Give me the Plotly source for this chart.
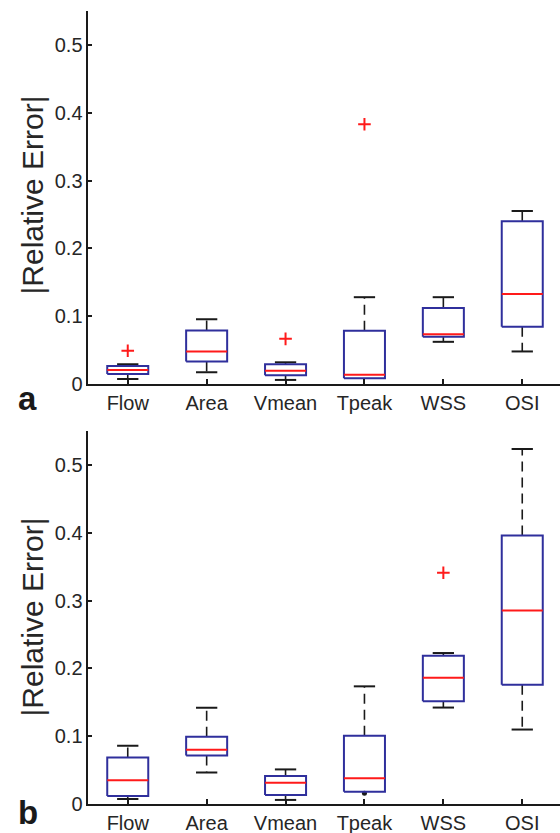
import plotly.graph_objects as go

categories = ["Flow", "Area", "Vmean", "Tpeak", "WSS", "OSI"]
y_ticks = [0, 0.1, 0.2, 0.3, 0.4, 0.5]
y_tick_text = ["0", "0.1", "0.2", "0.3", "0.4", "0.5"]

# Panel a
a_q1 = [0.0147, 0.033, 0.013, 0.0083, 0.0696, 0.0843]
a_med = [0.0206, 0.048, 0.0196, 0.0137, 0.0735, 0.1328]
a_q3 = [0.0265, 0.079, 0.029, 0.0784, 0.112, 0.240]
a_lo = [0.0074, 0.0172, 0.006, 0.0083, 0.0622, 0.048]
a_hi = [0.029, 0.0956, 0.032, 0.128, 0.128, 0.255]
a_out = [[0.049], [], [0.0666], [0.383], [], []]
a_lo_dot = [False, False, False, False, False, False]

# Panel b
b_q1 = [0.0118, 0.0716, 0.0132, 0.018, 0.1515, 0.176]
b_med = [0.0349, 0.080, 0.0314, 0.0378, 0.1863, 0.2853]
b_q3 = [0.0687, 0.099, 0.0412, 0.1005, 0.2187, 0.396]
b_lo = [0.0074, 0.0466, 0.006, 0.0157, 0.1422, 0.1098]
b_hi = [0.0859, 0.142, 0.051, 0.1735, 0.2226, 0.5235]
b_out = [[], [], [], [], [0.341], []]
b_lo_dot = [False, False, False, True, False, False]

BOX_W = 0.52
CAP_W = 0.27
BLUE = "#2f2f9c"
RED = "#ff1a1a"
BLACK = "#1a1a1a"
FONT = "Arial, Liberation Sans, sans-serif"

fig = go.Figure()


def add_panel(q1, med, q3, lo, hi, out, lo_dot, xa, ya):
    pos = list(range(1, len(categories) + 1))
    wx, wy, cx, cy, bx, by, mx, my, ox, oy, dx, dy = ([] for _ in range(12))
    for p, a, m, b, l, h, o, d in zip(pos, q1, med, q3, lo, hi, out, lo_dot):
        # whiskers (dashed)
        if h > b:
            wx += [p, p, None]; wy += [b, h, None]
            cx += [p - CAP_W / 2, p + CAP_W / 2, None]; cy += [h, h, None]
        if l < a:
            wx += [p, p, None]; wy += [a, l, None]
            if d:
                dx.append(p); dy.append(l)
            else:
                cx += [p - CAP_W / 2, p + CAP_W / 2, None]; cy += [l, l, None]
        # box
        bx += [p - BOX_W / 2, p + BOX_W / 2, p + BOX_W / 2, p - BOX_W / 2, p - BOX_W / 2, None]
        by += [a, a, b, b, a, None]
        mx += [p - BOX_W / 2, p + BOX_W / 2, None]; my += [m, m, None]
        for v in o:
            ox.append(p); oy.append(v)
    common = dict(xaxis=xa, yaxis=ya, showlegend=False, hoverinfo="skip")
    fig.add_trace(go.Scatter(x=wx, y=wy, mode="lines",
                             line=dict(color=BLACK, width=1.6, dash="10px,6px"), **common))
    fig.add_trace(go.Scatter(x=cx, y=cy, mode="lines",
                             line=dict(color=BLACK, width=2), **common))
    if dx:
        fig.add_trace(go.Scatter(x=dx, y=dy, mode="markers",
                                 marker=dict(color=BLACK, size=5, symbol="circle"), **common))
    fig.add_trace(go.Scatter(x=bx, y=by, mode="lines",
                             line=dict(color=BLUE, width=2), **common))
    fig.add_trace(go.Scatter(x=mx, y=my, mode="lines",
                             line=dict(color=RED, width=2), **common))
    fig.add_trace(go.Scatter(x=ox, y=oy, mode="markers",
                             marker=dict(symbol="cross-thin", size=9, color=RED,
                                         line=dict(color=RED, width=2)), **common))


add_panel(a_q1, a_med, a_q3, a_lo, a_hi, a_out, a_lo_dot, "x", "y")
add_panel(b_q1, b_med, b_q3, b_lo, b_hi, b_out, b_lo_dot, "x2", "y2")

W, H = 560, 833
x_left = 88.3 / W
x_range = [0.5, 0.5 + (W - 88.3) / 78.9]

xax = dict(range=x_range, domain=[x_left, 1], tickmode="array",
           tickvals=list(range(1, len(categories) + 1)), ticktext=categories,
           showline=True, linecolor=BLACK, linewidth=1.5, ticks="inside",
           ticklen=5, tickwidth=1.5, tickcolor=BLACK, showgrid=False, zeroline=False,
           tickfont=dict(family=FONT, size=20, color="#262626"), automargin=False)
yax = dict(range=[0, 0.55], tickmode="array", tickvals=y_ticks, ticktext=y_tick_text,
           showline=True, linecolor=BLACK, linewidth=1.5, ticks="inside",
           ticklen=4, tickwidth=1.5, tickcolor=BLACK, showgrid=False, zeroline=False,
           tickfont=dict(family=FONT, size=20, color="#262626"), automargin=False)

fig.update_layout(
    width=W, height=H,
    margin=dict(l=0, r=0, t=0, b=0),
    paper_bgcolor="white", plot_bgcolor="white",
    xaxis=dict(xax, anchor="y"),
    yaxis=dict(yax, anchor="x", domain=[1 - 384 / H, 1 - 11 / H]),
    xaxis2=dict(xax, anchor="y2"),
    yaxis2=dict(yax, anchor="x2", domain=[1 - 804 / H, 1 - 431 / H]),
    annotations=[
        dict(text="|Relative Error|", x=31.5 / W, y=1 - 195 / H, xref="paper", yref="paper",
             textangle=-90, showarrow=False, xanchor="center", yanchor="middle",
             font=dict(family=FONT, size=30, color="#262626")),
        dict(text="|Relative Error|", x=31.5 / W, y=1 - 617 / H, xref="paper", yref="paper",
             textangle=-90, showarrow=False, xanchor="center", yanchor="middle",
             font=dict(family=FONT, size=30, color="#262626")),
        dict(text="<b>a</b>", x=27.5 / W, y=1 - 398 / H, xref="paper", yref="paper",
             showarrow=False, xanchor="center", yanchor="middle",
             font=dict(family=FONT, size=33, color="#1a1a1a")),
        dict(text="<b>b</b>", x=27.5 / W, y=0, xref="paper", yref="paper",
             showarrow=False, xanchor="center", yanchor="bottom",
             font=dict(family=FONT, size=33, color="#1a1a1a")),
    ],
)

fig.write_html("out.html")
